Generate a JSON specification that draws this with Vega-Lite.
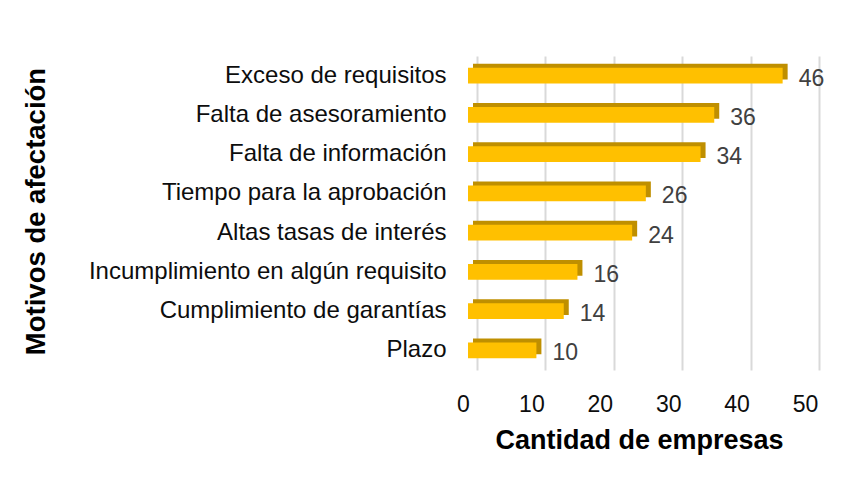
{
  "$schema": "https://vega.github.io/schema/vega-lite/v6.json",
  "width": 342,
  "height": 314,
  "autosize": "none",
  "padding": {"left": 468, "top": 56, "right": 47, "bottom": 121},
  "background": "white",
  "config": {
    "font": "Liberation Sans",
    "view": {"stroke": null}
  },
  "data": {
    "values": [
      {"motivo": "Exceso de requisitos", "n": 46},
      {"motivo": "Falta de asesoramiento", "n": 36},
      {"motivo": "Falta de información", "n": 34},
      {"motivo": "Tiempo para la aprobación", "n": 26},
      {"motivo": "Altas tasas de interés", "n": 24},
      {"motivo": "Incumplimiento en algún requisito", "n": 16},
      {"motivo": "Cumplimiento de garantías", "n": 14},
      {"motivo": "Plazo", "n": 10}
    ]
  },
  "encoding": {
    "y": {
      "field": "motivo",
      "type": "nominal",
      "sort": null,
      "scale": {"paddingInner": 0.6, "paddingOuter": 0.3},
      "axis": {
        "title": "Motivos de afectación",
        "titleFontSize": 27.5,
        "titleFontWeight": "bold",
        "titleColor": "#000000",
        "titleX": -418,
        "titleY": 155,
        "titleAngle": -90,
        "titleAlign": "center",
        "titleBaseline": "bottom",
        "titleLimit": 600,
        "labelFontSize": 24,
        "labelColor": "#0d0d0d",
        "labelPadding": 22,
        "labelLimit": 600,
        "ticks": false,
        "domain": false
      }
    },
    "x": {
      "field": "n",
      "type": "quantitative",
      "scale": {"domain": [0, 50]},
      "axis": {
        "title": "Cantidad de empresas",
        "titleFontSize": 27,
        "titleFontWeight": "bold",
        "titleColor": "#000000",
        "titlePadding": 11,
        "values": [0, 10, 20, 30, 40, 50],
        "labelFontSize": 23,
        "labelColor": "#0d0d0d",
        "labelPadding": 23,
        "labelFlush": false,
        "tickOffset": 9,
        "labelOffset": -14,
        "ticks": false,
        "domain": false,
        "grid": true,
        "gridColor": "#d9d9d9",
        "gridWidth": 2
      }
    }
  },
  "layer": [
    {
      "mark": {"type": "bar", "color": "#bf8f00", "xOffset": 5, "yOffset": -4}
    },
    {
      "mark": {"type": "bar", "color": "#ffc000"}
    },
    {
      "mark": {"type": "text", "align": "left", "baseline": "middle", "dx": 16, "dy": 3, "fontSize": 23, "color": "#404040"},
      "encoding": {"text": {"field": "n", "type": "quantitative"}}
    }
  ]
}
